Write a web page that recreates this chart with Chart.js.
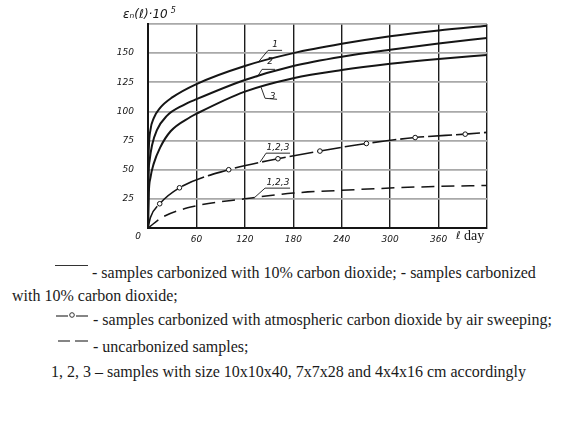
<!DOCTYPE html>
<html>
<head>
<meta charset="utf-8">
<script src="https://cdn.jsdelivr.net/npm/chart.js@4"></script>
<style>
  body { margin: 0; background: #fff; width: 566px; height: 422px; position: relative; overflow: hidden; }
  #wrap { position: absolute; left: 0; top: 0; width: 566px; height: 250px; }
  .txt { position: absolute; font-family: "Liberation Serif", serif; font-size: 16px; color: #1a1a1a; white-space: nowrap; line-height: 18px; }
  .sym { position: absolute; }
</style>
</head>
<body>
<div id="wrap"><canvas id="strainChart" width="566" height="250"></canvas></div>

<div class="sym" style="left:55px; top:265px; width:33px; border-top:1px solid #333;"></div>
<div class="txt" style="left:92px; top:264px;">- samples carbonized with 10% carbon dioxide; - samples carbonized</div>
<div class="txt" style="left:12px; top:287px;">with 10% carbon dioxide;</div>

<svg class="sym" style="left:55px; top:311px;" width="34" height="10">
  <line x1="1" y1="5" x2="13" y2="5" stroke="#333" stroke-width="1.2"/>
  <circle cx="17" cy="4" r="2.3" fill="none" stroke="#333" stroke-width="1"/>
  <line x1="21" y1="5" x2="33" y2="5" stroke="#333" stroke-width="1.2"/>
</svg>
<div class="txt" style="left:93px; top:311px;">- samples carbonized with atmospheric carbon dioxide by air sweeping;</div>

<svg class="sym" style="left:57px; top:337px;" width="32" height="8">
  <line x1="1" y1="4" x2="13" y2="4" stroke="#333" stroke-width="1.2"/>
  <line x1="18" y1="4" x2="31" y2="4" stroke="#333" stroke-width="1.2"/>
</svg>
<div class="txt" style="left:93px; top:338px;">- uncarbonized samples;</div>

<div class="txt" style="left:51px; top:363px;">1, 2, 3 – samples with size 10x10x40, 7x7x28 and 4x4x16 cm accordingly</div>

<script>
// curves 1-3: carbonized with 10% CO2
const curve1Days = [0, 0.3, 1, 3, 7, 15, 30, 60, 120, 180, 240, 300, 360, 420];
const curve1Vals = [0, 45, 68, 84, 94, 103, 112, 123.5, 139, 150, 158, 164.5, 169.5, 173.5];

const curve2Days = [0, 0.5, 2, 5, 11, 23, 44, 60, 120, 180, 240, 300, 360, 420];
const curve2Vals = [0, 40, 58, 71, 84, 96, 105.5, 110.5, 127, 139, 147, 153, 158.3, 163];

const curve3Days = [0, 1, 3, 7, 15, 28, 52, 60, 120, 180, 240, 300, 360, 420];
const curve3Vals = [0, 30, 43, 55, 69, 83, 95, 98, 117, 128.5, 135.5, 140.8, 145, 148.5];

// air sweeping (markers on the measured points)
const airDays = [0, 3, 14.5, 39, 100, 161, 213, 270.6, 331, 393, 420];
const airVals = [0, 9, 20.8, 34.5, 50, 59.4, 66, 72.5, 77.6, 80.5, 82];
const airMarked = [false, false, true, true, true, true, true, true, true, true, false];

// uncarbonized
const uncarbDays = [0, 19, 60, 120, 180, 240, 300, 360, 420];
const uncarbVals = [0, 9.7, 19, 25, 30, 32.3, 34.3, 35.7, 36.5];

const xTicks = [0, 60, 120, 180, 240, 300, 360, 420];
const yTicks = [0, 25, 50, 75, 100, 125, 150, 175];

// curve labels with leader lines, in data units (day, value)
const curveNotes = [
    { text: "1", at: [157.4, 157.5], leader: [[136.4, 142.1], [148.8, 152.4], [166.1, 152.4]] },
    { text: "2", at: [151.2, 142.3], leader: [[135.1, 129.3], [141.3, 136.1], [157.4, 136.1]] },
    { text: "3", at: [154.5, 112.5], leader: [[140.1, 120.7], [145, 111.3], [159.9, 110.4]] },
    { text: "1,2,3", at: [161, 68.5], leader: [[138.8, 56.5], [146.3, 64.2], [176, 64.2]] },
    { text: "1,2,3", at: [161, 38.5], leader: [[132.6, 26.5], [145, 34.2], [176, 34.2]] }
];

const INK = '#151515';

function toPoints(days, vals) {
    return days.map((d, i) => ({ x: d, y: vals[i] }));
}

const notesPlugin = {
    id: 'notes',
    afterDraw(chart) {
        const ctx = chart.ctx;
        const xs = chart.scales.x;
        const ys = chart.scales.y;
        ctx.save();
        ctx.strokeStyle = INK;
        ctx.fillStyle = INK;
        ctx.lineWidth = 0.9;
        ctx.font = 'italic 9px "DejaVu Sans"';
        ctx.textAlign = 'center';
        ctx.textBaseline = 'middle';
        curveNotes.forEach(n => {
            ctx.beginPath();
            n.leader.forEach((p, i) => {
                const px = xs.getPixelForValue(p[0]);
                const py = ys.getPixelForValue(p[1]);
                if (i === 0) ctx.moveTo(px, py); else ctx.lineTo(px, py);
            });
            ctx.stroke();
            ctx.fillText(n.text, xs.getPixelForValue(n.at[0]), ys.getPixelForValue(n.at[1]));
        });

        // origin label
        const ox = xs.getPixelForValue(0);
        const oy = ys.getPixelForValue(0);
        ctx.fillText('0', ox - 10, oy + 9);

        // x axis caption
        ctx.textAlign = 'left';
        ctx.font = 'italic 11px "DejaVu Sans"';
        ctx.fillText('ℓ', xs.getPixelForValue(420) - 31, oy + 8);
        ctx.font = '14px "Liberation Serif"';
        ctx.fillText('day', xs.getPixelForValue(420) - 23, oy + 8);

        // y axis caption
        ctx.font = 'italic 12px "DejaVu Sans"';
        const cap = 'εₙ(ℓ)·10';
        const capX = ox - 25;
        ctx.fillText(cap, capX, ys.top - 9);
        const w = ctx.measureText(cap).width;
        ctx.font = 'italic 8px "DejaVu Sans"';
        ctx.fillText('5', capX + w + 3, ys.top - 13);
        ctx.restore();
    }
};

const ctx = document.getElementById('strainChart').getContext('2d');
const strainChart = new Chart(ctx, {
    type: 'line',
    data: {
        datasets: [
            { label: '1', data: toPoints(curve1Days, curve1Vals), borderColor: INK, borderWidth: 2, pointRadius: 0, cubicInterpolationMode: 'monotone' },
            { label: '2', data: toPoints(curve2Days, curve2Vals), borderColor: INK, borderWidth: 2, pointRadius: 0, cubicInterpolationMode: 'monotone' },
            { label: '3', data: toPoints(curve3Days, curve3Vals), borderColor: INK, borderWidth: 2, pointRadius: 0, cubicInterpolationMode: 'monotone' },
            {
                label: 'air sweeping',
                data: toPoints(airDays, airVals),
                borderColor: INK, borderWidth: 1.6, borderDash: [24, 4],
                pointRadius: airMarked.map(m => m ? 2.3 : 0),
                pointBackgroundColor: '#fff', pointBorderColor: INK, pointBorderWidth: 1,
                cubicInterpolationMode: 'monotone'
            },
            { label: 'uncarbonized', data: toPoints(uncarbDays, uncarbVals), borderColor: INK, borderWidth: 1.5, borderDash: [13, 7], pointRadius: 0, cubicInterpolationMode: 'monotone' }
        ]
    },
    options: {
        responsive: false,
        animation: false,
        devicePixelRatio: 1,
        layout: { padding: { left: 0, right: 79, top: 24, bottom: 0 } },
        plugins: { legend: { display: false }, tooltip: { enabled: false } },
        scales: {
            x: {
                type: 'linear', min: 0, max: 420,
                afterBuildTicks: s => { s.ticks = xTicks.map(v => ({ value: v })); },
                afterFit: s => { s.height = 22; },
                grid: { color: '#1c1c1c', lineWidth: 1.4, drawTicks: false },
                border: { color: INK, width: 2 },
                ticks: {
                    padding: 6, color: INK,
                    font: { family: 'DejaVu Sans', style: 'italic', size: 9 },
                    callback: v => (v === 0 || v === 420) ? '' : v
                }
            },
            y: {
                min: 0, max: 175,
                afterBuildTicks: s => { s.ticks = yTicks.map(v => ({ value: v })); },
                afterFit: s => { s.width = 148; },
                grid: { color: '#a9a9a9', lineWidth: 1.8, drawTicks: false },
                border: { color: INK, width: 2 },
                ticks: {
                    padding: 14, color: INK,
                    font: { family: 'DejaVu Sans', style: 'italic', size: 9 },
                    callback: v => (v === 0 || v === 175) ? '' : v
                }
            }
        }
    },
    plugins: [notesPlugin]
});
</script>
</body>
</html>
